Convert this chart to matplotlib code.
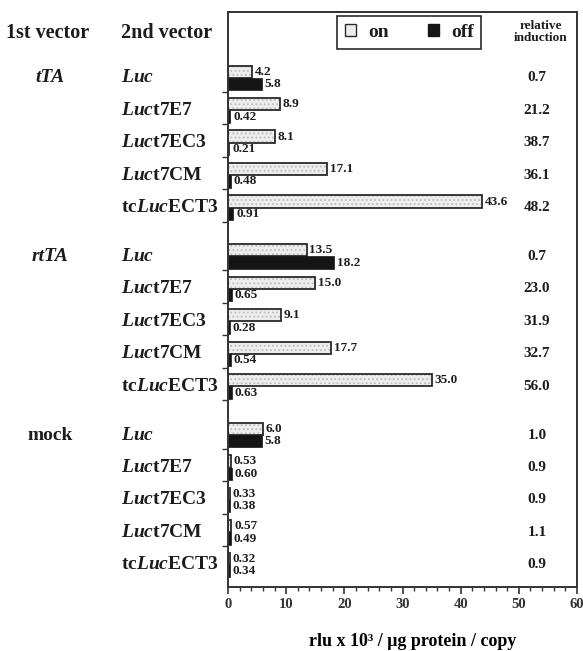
import numpy as np
import matplotlib
matplotlib.use("Agg")
import matplotlib.pyplot as plt
from matplotlib.patches import Patch
from matplotlib.transforms import blended_transform_factory

# data (rlu x 10^3 / ug protein / copy)
first_vectors = ["tTA", "rtTA", "mock"]
first_italic = [True, True, False]
second_vectors = ["$Luc$", "$Luc$t7E7", "$Luc$t7EC3", "$Luc$t7CM", "tc$Luc$ECT3"]
on_vals = [[4.2, 8.9, 8.1, 17.1, 43.6],
           [13.5, 15.0, 9.1, 17.7, 35.0],
           [6.0, 0.53, 0.33, 0.57, 0.32]]
off_vals = [[5.8, 0.42, 0.21, 0.48, 0.91],
            [18.2, 0.65, 0.28, 0.54, 0.63],
            [5.8, 0.60, 0.38, 0.49, 0.34]]
induction = [[0.7, 21.2, 38.7, 36.1, 48.2],
             [0.7, 23.0, 31.9, 32.7, 56.0],
             [1.0, 0.9, 0.9, 1.1, 0.9]]

TXT = "#1c1c1c"
plt.rcParams.update({
    "font.family": "Liberation Serif", "font.weight": "bold",
    "mathtext.fontset": "custom",
    "mathtext.it": "Liberation Serif:italic:bold",
    "mathtext.rm": "Liberation Serif:bold",
    "mathtext.bf": "Liberation Serif:bold",
    "text.color": TXT, "axes.edgecolor": "#333333",
    "xtick.color": "#333333", "ytick.color": "#333333",
    "hatch.linewidth": 0.8,
})


def fmt(v):
    return f"{v:.1f}" if v >= 1 else f"{v:.2f}"


GROUP_GAP = 5.5
BAR_H = 0.38
ON_FILL = "#ededed"

fig = plt.figure(figsize=(5.83, 6.51), dpi=100)
ax = fig.add_axes([0.3911, 0.0983, 0.5986, 0.8833])

ypos = []
for g in range(len(first_vectors)):
    ypos.append([g * GROUP_GAP + i for i in range(len(second_vectors))])

lab_tr = blended_transform_factory(fig.transFigure, ax.transData)
for g, grp in enumerate(first_vectors):
    y = np.array(ypos[g])
    # stippled "on" bars: hatched fill, then a dark outline on top
    ax.barh(y - BAR_H / 2, on_vals[g], height=BAR_H, color=ON_FILL,
            edgecolor="#bcbcbc", lw=0, hatch="....")
    ax.barh(y - BAR_H / 2, on_vals[g], height=BAR_H, fill=False,
            edgecolor="#2a2a2a", lw=1.3)
    ax.barh(y + BAR_H / 2, off_vals[g], height=BAR_H, color="#151515",
            edgecolor="#151515", lw=0.5)
    for i, yy in enumerate(y):
        ax.annotate(fmt(on_vals[g][i]), (on_vals[g][i], yy - BAR_H / 2),
                    xytext=(2, 0), textcoords="offset points",
                    ha="left", va="center", fontsize=9.5)
        ax.annotate(fmt(off_vals[g][i]), (off_vals[g][i], yy + BAR_H / 2),
                    xytext=(2, 0), textcoords="offset points",
                    ha="left", va="center", fontsize=9.5)
        ax.text(53.1, yy, f"{induction[g][i]:.1f}", ha="center", va="center",
                fontsize=11)
        ax.text(121 / 583, yy, second_vectors[i], transform=lab_tr,
                ha="left", va="center", fontsize=14)
    ax.text(50 / 583, y[0], grp, transform=lab_tr, ha="center", va="center",
            fontsize=14, style="italic" if first_italic[g] else "normal")

# left ticks between rows (not after the very last row)
all_y = [p for grp in ypos for p in grp]
ax.set_yticks([p + 0.43 for p in all_y[:-1]])
ax.set_yticklabels([])
ax.tick_params(axis="y", direction="out", length=4, width=1)

ax.set_xlim(0, 60)
ax.set_ylim(all_y[-1] + 0.68, -2.03)
ax.set_xticks(np.arange(0, 61, 10))
ax.set_xticks(np.arange(0, 61, 2), minor=True)
ax.tick_params(axis="x", which="major", direction="out", length=5, width=1.2,
               labelsize=10.5, pad=3)
ax.tick_params(axis="x", which="minor", direction="out", length=3, width=1)
for sp in ax.spines.values():
    sp.set_linewidth(1.4)

ax.set_xlabel("rlu x 10\u00b3 / \u03bcg protein / copy", fontsize=13,
              fontweight="bold")
ax.xaxis.set_label_coords((413 - 228) / 349, -0.08)

# headers
fig.text(48 / 583, 1 - 33 / 651, "1st vector", ha="center", va="center",
         fontsize=14.5)
fig.text(121 / 583, 1 - 33 / 651, "2nd vector", ha="left", va="center",
         fontsize=14.5)
fig.text(541 / 583, 1 - 32 / 651, "relative\ninduction", ha="center",
         va="center", fontsize=9.5, linespacing=1.0)

handles = [Patch(facecolor=ON_FILL, edgecolor="#2a2a2a", lw=1.0, label="on"),
           Patch(facecolor="#151515", edgecolor="#151515", label="off")]
leg = ax.legend(handles=handles, ncol=2, loc="upper left",
                bbox_to_anchor=((337 - 228) / 349, 1 - 4 / 575),
                borderaxespad=0, frameon=True, fancybox=False,
                edgecolor="#2a2a2a", framealpha=1, fontsize=14,
                handlelength=0.6, handleheight=0.6, columnspacing=2.0,
                handletextpad=0.6, borderpad=0.4)
leg.get_frame().set_linewidth(1.2)

fig.savefig("out.png", dpi=100)
